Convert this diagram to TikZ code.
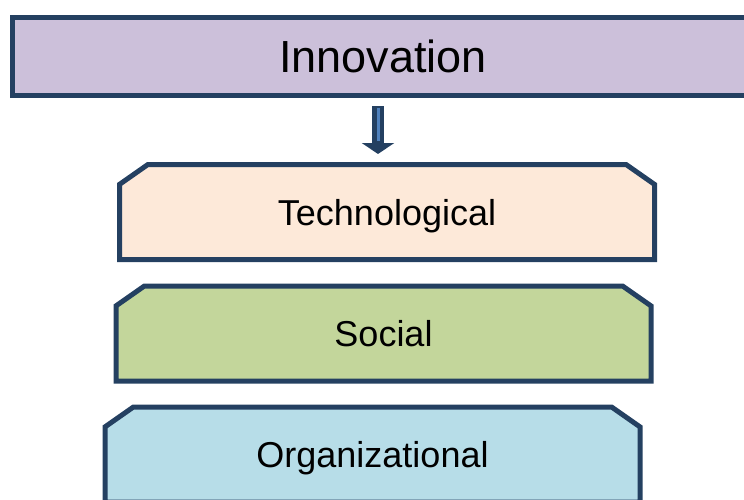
\documentclass[tikz,border=0pt]{standalone}
\usepackage{fontspec}
\setmainfont{Liberation Sans}
\usetikzlibrary{shapes.misc,arrows.meta}
\definecolor{navy}{RGB}{36,64,97}
\definecolor{lavender}{RGB}{204,192,218}
\definecolor{peach}{RGB}{253,233,217}
\definecolor{layergreen}{RGB}{195,214,155}
\definecolor{layerblue}{RGB}{183,221,232}
\definecolor{arrowblue}{RGB}{79,129,189}
\begin{document}
\begin{tikzpicture}[x=1pt,y=-1pt,
		box/.style={draw=navy,line width=5pt,text depth=0pt,font=\fontsize{36}{40}\selectfont},
		layer/.style={box,chamfered rectangle,chamfered rectangle corners={north west,north east},
			chamfered rectangle angle=55,chamfered rectangle xsep=26pt,
			minimum width=535pt,minimum height=95pt}]
		\clip (0,0) rectangle (744,500);
		\node[box,fill=lavender,minimum width=741pt,minimum height=78pt,font=\fontsize{45}{50}\selectfont] (innov) at (383,56.5) {Innovation};
		\node[layer,fill=peach]      (tech)  at (387,212)   {Technological};
		\node[layer,fill=layergreen] (soc)   at (383.5,333.5) {Social};
		\node[layer,fill=layerblue]  (org)   at (372.5,454.5) {Organizational};

		\coordinate (arrx) at (378,0);
		\draw[navy,line width=12pt,shorten <=8.5pt,shorten >=8pt,-{Triangle[length=11pt,width=32pt]}]
			(innov.south -| arrx) -- (tech.north -| arrx);
		\draw[arrowblue,line width=3pt,shorten <=10.5pt,shorten >=21pt]
			(innov.south -| arrx) -- (tech.north -| arrx);
	\end{tikzpicture}
\end{document}
